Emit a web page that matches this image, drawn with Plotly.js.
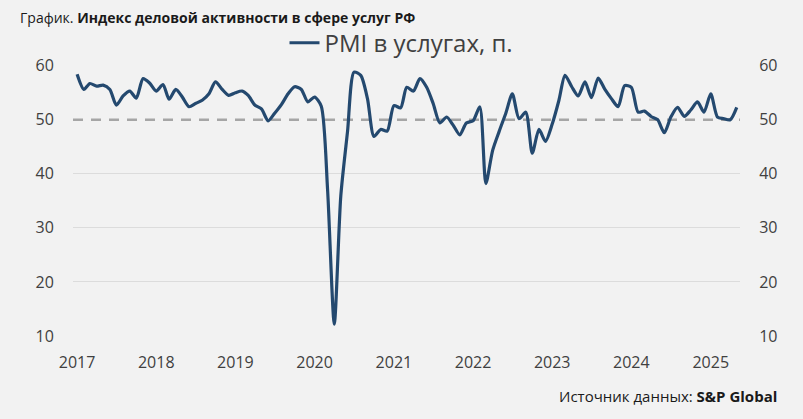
<!DOCTYPE html>
<html>
<head>
<meta charset="utf-8">
<script src="https://cdn.plot.ly/plotly-3.0.1.min.js"></script>
<style>
  html, body { margin: 0; padding: 0; background: #f2f2f2; }
  #chart { width: 803px; height: 419px; }
</style>
</head>
<body>
<div id="chart"></div>
<script>
// PMI в услугах, п. — помесячно, янв 2017 .. май 2025
var pmi2017 = [58.4, 55.6, 56.7, 56.2, 56.4, 55.6, 52.7, 54.4, 55.3, 54.0, 57.6, 56.8];
var pmi2018 = [55.3, 56.5, 53.8, 55.6, 54.2, 52.4, 53.0, 53.6, 54.8, 57.0, 55.6, 54.5];
var pmi2019 = [55.0, 55.3, 54.5, 52.7, 52.0, 49.8, 51.2, 52.8, 54.8, 56.1, 55.6, 53.3];
var pmi2020 = [54.2, 52.5, 37.1, 12.2, 35.9, 47.8, 58.8, 58.2, 53.9, 46.9, 48.2, 47.9];
var pmi2021 = [52.6, 52.2, 56.0, 55.3, 57.6, 56.0, 53.0, 49.4, 50.5, 49.0, 47.2, 49.4];
var pmi2022 = [49.8, 52.4, 38.2, 44.3, 47.8, 51.2, 54.8, 50.2, 51.4, 43.8, 48.2, 46.0];
var pmi2023 = [49.2, 53.6, 58.2, 56.1, 54.4, 57.0, 54.1, 57.7, 55.6, 53.9, 52.4, 56.3];
var pmi2024 = [56.0, 51.4, 51.6, 50.6, 50.0, 47.6, 50.5, 52.3, 50.6, 51.8, 53.3, 51.4];
var pmi2025 = [54.8, 50.5, 50.2, 50.0, 52.3];

var startYear = 2017;
var years = ['2017', '2018', '2019', '2020', '2021', '2022', '2023', '2024', '2025'];
var yTicks = [10, 20, 30, 40, 50, 60];
var gridLevels = [10, 20, 30, 40, 60];   // на 50 — пунктир вместо сетки
var refLevel = 50;

var pmi = [].concat(pmi2017, pmi2018, pmi2019, pmi2020, pmi2021, pmi2022, pmi2023, pmi2024, pmi2025);
var months = pmi.map(function(v, i) {
  var y = startYear + Math.floor(i / 12);
  var m = (i % 12) + 1;
  return y + '-' + (m < 10 ? '0' + m : m) + '-01';
});

var ghost = { color: 'rgba(0,0,0,0)', width: 0 };

var data = [
  // служебные невидимые копии, чтобы нарисовались правая ось и сетка
  { type: 'scatter', mode: 'lines', x: months, y: pmi, yaxis: 'y2', line: ghost, showlegend: false, hoverinfo: 'skip' },
  { type: 'scatter', mode: 'lines', x: months, y: pmi, yaxis: 'y3', line: ghost, showlegend: false, hoverinfo: 'skip' },
  {
    type: 'scatter',
    mode: 'lines',
    name: 'PMI в услугах, п.',
    x: months,
    y: pmi,
    line: { color: '#24496f', width: 3.2, shape: 'spline', smoothing: 0.7 },
    hoverinfo: 'x+y'
  }
];

var tickFont = { family: 'Open Sans, sans-serif', size: 16, color: '#404040' };

var layout = {
  width: 803,
  height: 419,
  paper_bgcolor: '#f2f2f2',
  plot_bgcolor: '#f2f2f2',
  margin: { l: 73, r: 63, t: 63, b: 83 },
  font: { family: 'Open Sans, sans-serif', color: '#404040' },
  title: {
    text: 'График. <b>Индекс деловой активности в сфере услуг РФ</b>',
    font: { family: 'Open Sans, sans-serif', size: 14, color: '#1a1a1a' },
    xref: 'container', x: 0.025, xanchor: 'left',
    yref: 'container', y: 0.957, yanchor: 'middle'
  },
  showlegend: true,
  legend: {
    orientation: 'h',
    xref: 'container', x: 0.5, xanchor: 'center',
    yref: 'container', y: 0.897, yanchor: 'middle',
    font: { family: 'Open Sans, sans-serif', size: 24, color: '#404040' },
    bgcolor: 'rgba(0,0,0,0)'
  },
  xaxis: {
    type: 'date',
    range: ['2016-12-13', '2025-05-16'],
    tickmode: 'array',
    tickvals: years.map(function(y) { return y + '-01-01'; }),
    ticktext: years,
    showgrid: false,
    zeroline: false,
    showline: false,
    ticks: 'outside',
    ticklen: 12,
    tickcolor: 'rgba(0,0,0,0)',
    tickfont: tickFont
  },
  yaxis: {
    range: [10, 60],
    tickmode: 'array',
    tickvals: yTicks,
    showgrid: false,
    zeroline: false,
    showline: false,
    ticks: 'outside',
    ticklen: 15,
    tickcolor: 'rgba(0,0,0,0)',
    tickfont: tickFont
  },
  yaxis2: {
    overlaying: 'y',
    side: 'right',
    range: [10, 60],
    tickmode: 'array',
    tickvals: yTicks,
    showgrid: false,
    zeroline: false,
    showline: false,
    ticks: 'outside',
    ticklen: 15,
    tickcolor: 'rgba(0,0,0,0)',
    tickfont: tickFont
  },
  yaxis3: {
    overlaying: 'y',
    range: [10, 60],
    tickmode: 'array',
    tickvals: gridLevels,
    showticklabels: false,
    showgrid: true,
    gridcolor: '#dcdcdc',
    gridwidth: 1,
    zeroline: false,
    showline: false,
    ticks: ''
  },
  shapes: [
    {
      type: 'line',
      xref: 'paper', x0: 0, x1: 1,
      yref: 'y', y0: refLevel, y1: refLevel,
      line: { color: '#a6a6a6', width: 2.5, dash: '10px,8px' },
      layer: 'below'
    }
  ],
  annotations: [
    {
      text: 'Источник данных: <b>S&P Global</b>',
      xref: 'paper', x: 1.0585, xanchor: 'right',
      yref: 'paper', y: -0.2234, yanchor: 'middle',
      showarrow: false,
      font: { family: 'Open Sans, sans-serif', size: 15, color: '#1a1a1a' }
    }
  ]
};

Plotly.newPlot('chart', data, layout, { displayModeBar: false, staticPlot: true });
</script>
</body>
</html>
